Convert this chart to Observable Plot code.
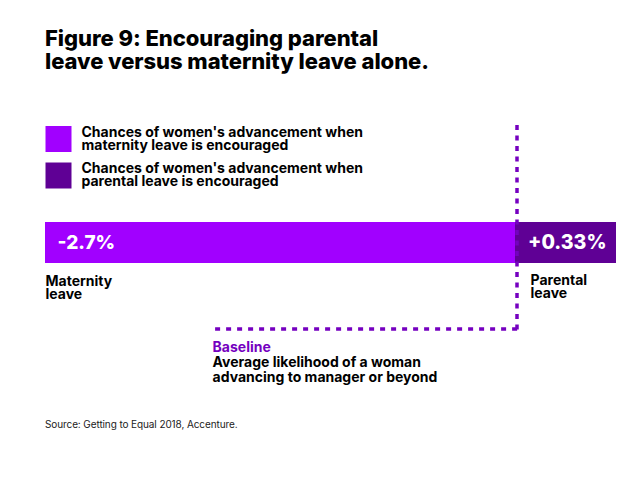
<!DOCTYPE html>
<html>
<head>
<meta charset="utf-8">
<script src="https://cdn.jsdelivr.net/npm/d3@7"></script>
<script src="https://cdn.jsdelivr.net/npm/@observablehq/plot@0.6"></script>
<style>
  html, body { margin: 0; padding: 0; background: #fff; }
  body { width: 625px; height: 487px; position: relative; overflow: hidden; font-family: Inter, "Noto Sans", sans-serif; }
  #title { position: absolute; left: 45px; top: 27px; margin: 0; font-size: 22px; font-weight: 800; line-height: 23px; color: #000; letter-spacing: -0.05px; }
  #chart { position: absolute; left: 0; top: 100px; }
  #caption { position: absolute; left: 45px; top: 418px; font-size: 10px; color: #222; letter-spacing: -0.1px; }
</style>
</head>
<body>
<div id="title">Figure 9: Encouraging parental<br>leave versus maternity leave alone.</div>
<div id="chart"></div>
<div id="caption">Source: Getting to Equal 2018, Accenture.</div>
<script>
// ---- data ----
const series = ["Maternity leave", "Parental leave"];
const values = [-2.7, 0.33];
const valueLabels = ["-2.7%", "+0.33%"];
const categoryLabels = ["Maternity\nleave", "Parental\nleave"];
const legendLabels = [
  "Chances of women's advancement when\nmaternity leave is encouraged",
  "Chances of women's advancement when\nparental leave is encouraged"
];
const baselineTitle = "Baseline";
const baselineText = "Average likelihood of a woman\nadvancing to manager or beyond";
const baselineNoteStart = -1.74; // where the baseline note begins on the value axis

const colors = ["#A100FF", "#5F0095"];
const dotted = "#7500C0";

const data = series.map((s, i) => ({series: s, value: values[i], label: valueLabels[i], cat: categoryLabels[i], row: "row"}));

const font = "Inter, 'Noto Sans', sans-serif";

const plot = Plot.plot({
  width: 625,
  height: 310,
  marginLeft: 45,
  marginRight: 9,
  marginTop: 25,
  marginBottom: 80,
  style: {fontFamily: font, background: "transparent", overflow: "visible"},
  x: {type: "linear", domain: [-2.7, 0, 0.33], range: [45, 515, 616], axis: null},
  y: {type: "band", domain: ["row"], range: [122, 163], padding: 0, axis: null},
  color: {domain: series, range: colors},
  marks: [
    // bars
    Plot.barX(data, {x: "value", y: "row", fill: "series"}),
    // value labels
    Plot.text(data.filter(d => d.value < 0), {x: "value", y: "row", text: "label", textAnchor: "start", dx: 12, fill: "white", fontSize: 19, fontWeight: 800}),
    Plot.text(data.filter(d => d.value > 0), {x: "value", y: "row", text: "label", textAnchor: "end", dx: -10, fill: "white", fontSize: 19.5, fontWeight: 800}),
    // category labels
    Plot.text(data.filter(d => d.value < 0), {x: "value", y: "row", text: "cat", textAnchor: "start", lineAnchor: "top", dy: 33, lineHeight: 0.98, fill: "#000", fontSize: 14, fontWeight: 700}),
    Plot.text(data.filter(d => d.value > 0), {x: () => 0, y: "row", text: "cat", textAnchor: "start", lineAnchor: "top", dy: 32, dx: 15, lineHeight: 0.98, fill: "#000", fontSize: 14, fontWeight: 700}),
    // baseline dotted lines
    Plot.ruleX([0], {stroke: dotted, strokeWidth: 3.5, strokeDasharray: "5,5.5", dx: 1.5}),
    Plot.ruleY([0], {y: null, x1: () => baselineNoteStart, x2: () => 0, dx: 3, dy: 101, stroke: dotted, strokeWidth: 3.5, strokeDasharray: "5,6"}),
    // baseline note
    Plot.text([baselineTitle], {x: () => baselineNoteStart, frameAnchor: "bottom", textAnchor: "start", lineAnchor: "top", dy: 12, fill: dotted, fontSize: 14, fontWeight: 700}),
    Plot.text([baselineText], {x: () => baselineNoteStart, frameAnchor: "bottom", textAnchor: "start", lineAnchor: "top", dy: 26, lineHeight: 1.08, fill: "#000", fontSize: 14, fontWeight: 700}),
    // legend
    ...series.map((s, i) => Plot.dot([s], {frameAnchor: "top-left", dx: 13, dy: 13.5 + i * 36.5, fill: d => d, symbol: "square", r: 14.67})),
    ...series.map((s, i) => Plot.text([legendLabels[i]], {frameAnchor: "top-left", dx: 36, dy: 1.5 + i * 36, textAnchor: "start", lineAnchor: "top", lineHeight: 0.98, fill: "#000", fontSize: 14, fontWeight: 700}))
  ]
});
document.getElementById("chart").appendChild(plot);
</script>
</body>
</html>
